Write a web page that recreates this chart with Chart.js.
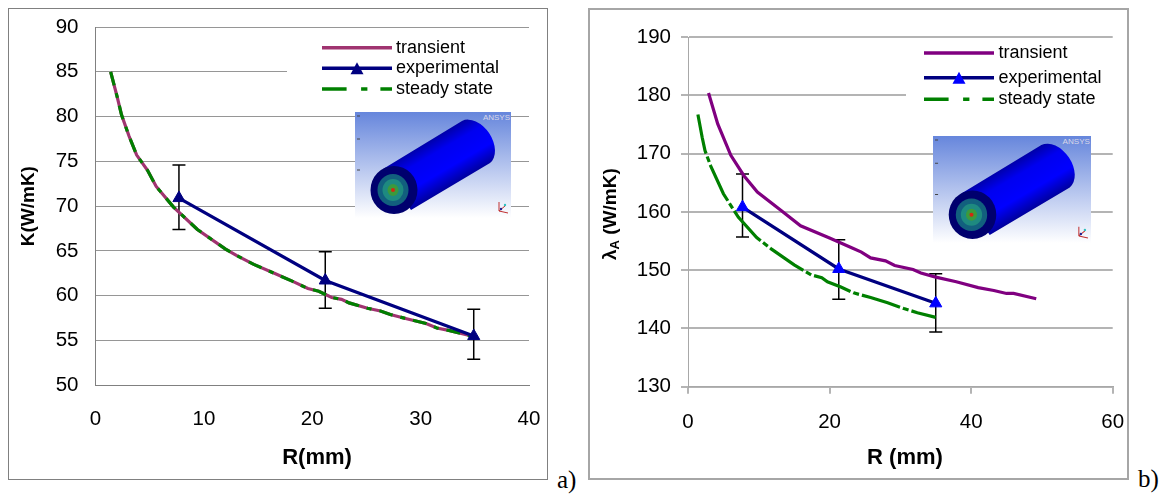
<!DOCTYPE html>
<html lang="en">
<head>
    <meta charset="UTF-8">
    <title>K and lambda vs R</title>
    <script src="https://cdn.jsdelivr.net/npm/chart.js"></script>
    <style>
        body { margin: 0; background: white; width: 1168px; height: 496px; overflow: hidden; position: relative; }
        .frame { position: absolute; top: 8px; height: 472px; box-sizing: border-box; }
        canvas { position: absolute; top: 8px; }
        .inset { position: absolute; }
        .tag { position: absolute; font: 25px "Liberation Serif", serif; color: black; }
    </style>
</head>
<body>
    <canvas id="chartA" width="540" height="472" style="left:8px"></canvas>
    <canvas id="chartB" width="541" height="472" style="left:588px"></canvas>
    <div class="frame" style="left:8px;width:540px;border:1px solid #808080"></div>
    <div class="frame" style="left:588px;width:541px;border:2px solid #a6a6a6"></div>
    <svg class="inset" id="insetA" style="left:355px;top:112px" width="156" height="106"></svg>
    <svg class="inset" id="insetB" style="left:933px;top:136px" width="158" height="107"></svg>
    <div class="tag" style="left:557px;top:466px">a)</div>
    <div class="tag" style="left:1138px;top:465px">b)</div>

    <script>
        const seriesNames = ['transient', 'experimental', 'steady state'];

        // panel a
        const aTransientR = [1.4, 2.0, 2.4, 3.1, 3.8, 4.8, 5.6, 7.2, 9.4, 12, 13, 14.6, 16.5, 18.2, 19.6, 20.6, 21.8, 22.7, 23.4, 25.1, 26.3, 27.2, 28.8, 30.5, 31.5, 32.7, 34.7];
        const aTransientK = [85, 82.2, 80.2, 77.8, 75.7, 74, 72.2, 69.9, 67.4, 65.2, 64.5, 63.5, 62.5, 61.6, 60.8, 60.5, 59.8, 59.6, 59.2, 58.6, 58.3, 57.9, 57.4, 56.9, 56.4, 56.1, 55.5];
        const aSteadyR = [1.4, 2.0, 2.4, 3.1, 3.8, 4.8, 5.6, 7.2, 9.4, 12, 13, 14.6, 16.5, 18.2, 19.6, 20.6, 21.8, 22.7, 23.4, 25.1, 26.3, 27.2, 28.8, 30.5, 31.5, 32.7, 34.7];
        const aSteadyK = [85, 82.2, 80.2, 77.8, 75.7, 74, 72.2, 69.9, 67.4, 65.2, 64.5, 63.5, 62.5, 61.6, 60.8, 60.5, 59.8, 59.6, 59.2, 58.6, 58.3, 57.9, 57.4, 56.9, 56.4, 56.1, 55.5];
        const aExpR = [7.7, 21.2, 34.9];
        const aExpK = [70.9, 61.7, 55.5];
        const aExpLow = [67.4, 58.6, 52.9];
        const aExpHigh = [74.6, 64.9, 58.5];

        // panel b
        const bTransientR = [2.9, 4.2, 6.05, 7.9, 9.8, 13.2, 15.9, 20, 23.2, 24.5, 25.8, 27.9, 29.2, 31.8, 32.9, 35, 37.9, 41, 43.2, 45, 46, 49.2];
        const bTransientL = [180.4, 175.1, 169.7, 166.2, 163.4, 160.2, 157.6, 155.5, 153.8, 153.1, 152.1, 151.6, 150.8, 150.1, 149.5, 148.8, 148, 147, 146.5, 146, 146, 145.1];
        const bSteadyR = [1.4, 2, 2.4, 3.2, 5, 7.1, 9.7, 11.8, 15, 17.4, 18.9, 19.7, 21.6, 23.4, 25.8, 28.2, 30.5, 32.4, 35];
        const bSteadyL = [176.7, 172.8, 170.5, 167.9, 163.1, 159.1, 155.6, 153.6, 150.9, 149.2, 148.7, 148, 147.1, 146.1, 145.3, 144.4, 143.4, 142.7, 141.9];
        const bExpR = [7.7, 21.3, 35];
        const bExpL = [160.8, 150.2, 144.3];
        const bExpLow = [155.7, 145, 139.4];
        const bExpHigh = [166.5, 155.2, 149.4];

        const FONT = '"Liberation Sans", Arial, sans-serif';

        function zip(xs, ys) {
            return xs.map((x, i) => ({ x: x, y: ys[i] }));
        }

        // error bars, under the series
        const errorBars = {
            id: 'errorBars',
            beforeDatasetsDraw(chart, args, opts) {
                const { ctx, scales } = chart;
                ctx.save();
                ctx.strokeStyle = 'black';
                ctx.lineWidth = 1.5;
                opts.r.forEach((r, i) => {
                    const x = scales.x.getPixelForValue(r);
                    const lo = scales.y.getPixelForValue(opts.low[i]);
                    const hi = scales.y.getPixelForValue(opts.high[i]);
                    ctx.beginPath();
                    ctx.moveTo(x, lo); ctx.lineTo(x, hi);
                    ctx.moveTo(x - 6.5, lo); ctx.lineTo(x + 6.5, lo);
                    ctx.moveTo(x - 6.5, hi); ctx.lineTo(x + 6.5, hi);
                    ctx.stroke();
                });
                ctx.restore();
            }
        };

        // white box over the grid with the legend entries
        const boxLegend = {
            id: 'boxLegend',
            beforeDatasetsDraw(chart, args, o) {
                const { ctx } = chart;
                ctx.fillStyle = 'white';
                ctx.fillRect(o.box[0], o.box[1], o.box[2], o.box[3]);
            },
            afterDraw(chart, args, o) {
                const { ctx } = chart;
                const ds = chart.data.datasets;
                ctx.save();
                ctx.font = '18px ' + FONT;
                ctx.textBaseline = 'middle';
                ctx.fillStyle = 'black';
                ds.forEach((d, i) => {
                    const y = o.rows[i];
                    ctx.fillText(d.label, o.textX, y);
                    ctx.strokeStyle = d.borderColor;
                    ctx.lineWidth = 3.5;
                    ctx.beginPath();
                    ctx.setLineDash(i === 2 ? [24.6, 14.5, 6.3, 13, 11.6, 0] : []);
                    ctx.moveTo(o.lineX, y);
                    ctx.lineTo(o.lineX + 70, y);
                    ctx.stroke();
                    ctx.setLineDash([]);
                    if (i === 1) {
                        const mx = o.lineX + 35;
                        ctx.fillStyle = d.pointBackgroundColor;
                        ctx.beginPath();
                        ctx.moveTo(mx - 6.5, y + 6);
                        ctx.lineTo(mx + 6.5, y + 6);
                        ctx.lineTo(mx, y - 6);
                        ctx.closePath();
                        ctx.fill();
                        ctx.fillStyle = 'black';
                    }
                });
                ctx.restore();
            }
        };

        // axis titles that sit off centre, and lambda with its subscript
        const axisTexts = {
            id: 'axisTexts',
            afterDraw(chart, args, o) {
                const { ctx } = chart;
                ctx.save();
                ctx.fillStyle = 'black';
                ctx.textAlign = 'center';
                ctx.textBaseline = 'middle';
                ctx.font = 'bold 22px ' + FONT;
                ctx.fillText(o.xTitle, o.xTitleAt[0], o.xTitleAt[1]);
                ctx.restore();
                if (!o.lambda) return;
                ctx.save();
                ctx.translate(o.lambda[0], o.lambda[1]);
                ctx.rotate(-Math.PI / 2);
                ctx.fillStyle = 'black';
                ctx.textBaseline = 'alphabetic';
                ctx.font = 'bold 19px ' + FONT;
                ctx.fillText('\u03bb', 0, 0);
                let w = ctx.measureText('\u03bb').width;
                ctx.font = 'bold 13px ' + FONT;
                ctx.fillText('A', w, 3);
                w += ctx.measureText('A').width;
                ctx.font = 'bold 19px ' + FONT;
                ctx.fillText(' (W/mK)', w, 0);
                ctx.restore();
            }
        };

        function makeChart(id, p) {
            return new Chart(document.getElementById(id), {
                type: 'scatter',
                data: {
                    datasets: [
                        { label: seriesNames[0], data: p.transient, showLine: true, order: 3, borderColor: p.transientColor, borderWidth: 3.2, pointRadius: 0, tension: 0 },
                        { label: seriesNames[1], data: p.exp, showLine: true, order: 1, borderColor: '#000080', borderWidth: 3.2, pointStyle: 'triangle', pointRadius: 7, pointBorderWidth: 1, pointBorderColor: p.markerColor, pointBackgroundColor: p.markerColor, tension: 0 },
                        { label: seriesNames[2], data: p.steady, showLine: true, order: 2, borderColor: '#008000', borderWidth: 3.2, borderDash: p.dash, pointRadius: 0, tension: 0 }
                    ]
                },
                options: {
                    responsive: false,
                    animation: false,
                    layout: { padding: { left: 0, top: p.plot.top, right: p.plot.right, bottom: 0 } },
                    plugins: {
                        legend: { display: false },
                        tooltip: { enabled: false },
                        errorBars: { r: p.errR, low: p.errLow, high: p.errHigh },
                        boxLegend: p.legend,
                        axisTexts: p.texts
                    },
                    scales: {
                        x: {
                            min: p.xMin, max: p.xMax,
                            afterFit(s) { s.height = p.plot.bottom; s.paddingLeft = 0; s.paddingRight = 0; },
                            ticks: { stepSize: p.xStep, color: 'black', padding: p.xPad, maxRotation: 0, font: { family: FONT, size: 20.5 } },
                            grid: { drawOnChartArea: false, drawTicks: p.ticks, tickLength: 7, color: p.gridColor, lineWidth: p.gridWidth },
                            border: { color: p.axisColor, width: p.axisWidth }
                        },
                        y: {
                            min: p.yMin, max: p.yMax,
                            afterFit(s) { s.width = p.plot.left; s.paddingTop = 0; s.paddingBottom = 0; },
                            ticks: { stepSize: p.yStep, color: 'black', padding: p.yPad, font: { family: FONT, size: 20.5 } },
                            grid: { drawTicks: p.ticks, tickLength: 7, color: p.gridColor, lineWidth: p.gridWidth },
                            border: { color: p.axisColor, width: p.axisWidth },
                            title: { display: !!p.yTitle, text: p.yTitle, color: 'black', padding: { top: 9, bottom: 0 }, font: { family: FONT, size: 19, weight: 'bold' } }
                        }
                    }
                },
                plugins: [errorBars, boxLegend, axisTexts]
            });
        }

        makeChart('chartA', {
            transient: zip(aTransientR, aTransientK), exp: zip(aExpR, aExpK), steady: zip(aSteadyR, aSteadyK),
            errR: aExpR, errLow: aExpLow, errHigh: aExpHigh,
            transientColor: '#a03470', markerColor: '#000080', dash: [14, 8, 5, 8],
            plot: { left: 87.5, top: 19, right: 19, bottom: 94.7 },
            xMin: 0, xMax: 40, xStep: 10, yMin: 50, yMax: 90, yStep: 5,
            xPad: 22, yPad: 17, ticks: false, gridColor: '#969696', gridWidth: 1, axisColor: '#808080', axisWidth: 1,
            yTitle: 'K(W/mK)',
            legend: { box: [279, 24, 242, 76], lineX: 314, textX: 388, rows: [39.7, 60.3, 81] },
            texts: { xTitle: 'R(mm)', xTitleAt: [309, 450] }
        });

        makeChart('chartB', {
            transient: zip(bTransientR, bTransientL), exp: zip(bExpR, bExpL), steady: zip(bSteadyR, bSteadyL),
            errR: bExpR, errLow: bExpLow, errHigh: bExpHigh,
            transientColor: '#800080', markerColor: '#0000ff', dash: [40, 3, 6, 3],
            plot: { left: 100, top: 29, right: 16.3, bottom: 93.3 },
            xMin: 0, xMax: 60, xStep: 20, yMin: 130, yMax: 190, yStep: 10,
            xPad: 16, yPad: 10, ticks: true, gridColor: '#b4b4b4', gridWidth: 2, axisColor: '#a8a8a8', axisWidth: 1,
            yTitle: '',
            legend: { box: [318, 32, 209, 90], lineX: 336, textX: 410.5, rows: [45, 69.7, 91.3] },
            texts: { xTitle: 'R (mm)', xTitleAt: [317, 450], lambda: [28, 252] }
        });

        // the ANSYS model picture next to each legend
        function drawInset(id, gid) {
            document.getElementById(id).setAttribute('viewBox', '0 0 156 106');
            document.getElementById(id).setAttribute('preserveAspectRatio', 'none');
            document.getElementById(id).innerHTML =
                '<defs>' +
                '<linearGradient id="bg' + gid + '" x1="0" y1="0" x2="0" y2="1"><stop offset="0" stop-color="#6686dc"/><stop offset="1" stop-color="#ffffff"/></linearGradient>' +
                '<linearGradient id="cy' + gid + '" gradientUnits="userSpaceOnUse" x1="66" y1="30" x2="94" y2="78"><stop offset="0" stop-color="#00009a"/><stop offset="0.3" stop-color="#0000f0"/><stop offset="0.65" stop-color="#0000ff"/><stop offset="1" stop-color="#000090"/></linearGradient>' +
                '</defs>' +
                '<rect width="156" height="106" fill="url(#bg' + gid + ')"/>' +
                '<path d="M28 57 L107 9 A25.3 17 56 0 1 135 51 L56 98 Z" fill="url(#cy' + gid + ')"/>' +
                '<ellipse cx="39" cy="78" rx="23.5" ry="24" fill="#00006e"/>' +
                '<ellipse cx="38" cy="78" rx="15.5" ry="16" fill="#12607e"/>' +
                '<ellipse cx="38" cy="78" rx="10.5" ry="11" fill="#1e8a80"/>' +
                '<ellipse cx="38" cy="78" rx="5.5" ry="6" fill="#3b9a3c"/>' +
                '<ellipse cx="38" cy="78" rx="2" ry="2" fill="#d02a10"/>' +
                '<text x="155" y="8" text-anchor="end" font-family="Liberation Sans" font-size="8" fill="#d8d8e8">ANSYS</text>' +
                '<path d="M144 90 V99 M144 99 L153 101 M144 99 L150 94" stroke="#c03030" stroke-width="1" fill="none"/>' +
                '<circle cx="146" cy="97" r="1.2" fill="#202090"/>' +
                '<circle cx="150" cy="93" r="1.2" fill="#30c0c0"/>' +
                '<path d="M2 4 h3 M2 27 h3 M2 58 h3" stroke="#444" stroke-width="1"/>';
        }
        drawInset('insetA', 'a');
        drawInset('insetB', 'b');
    </script>
</body>
</html>
